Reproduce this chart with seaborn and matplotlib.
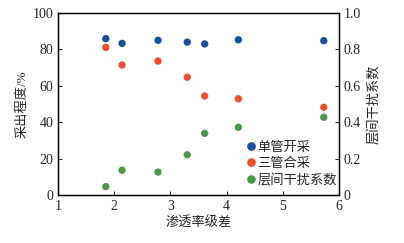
import matplotlib
matplotlib.use("Agg")
import matplotlib.pyplot as plt
import seaborn as sns
import pandas as pd
from matplotlib.lines import Line2D

sns.set_style("ticks")
plt.rcParams['font.family'] = ['Liberation Serif', 'Noto Sans CJK SC']
plt.rcParams['axes.unicode_minus'] = False

perm_diff = [1.85, 2.14, 2.78, 3.30, 3.61, 4.21, 5.73]
single = [85.9, 83.3, 85.0, 84.0, 83.0, 85.3, 84.8]
triple = [81.1, 71.4, 73.6, 64.7, 54.4, 52.9, 48.2]
interf = [0.046, 0.136, 0.126, 0.221, 0.339, 0.372, 0.427]
names = ["单管开采", "三管合采", "层间干扰系数"]
colors = ["#1a4f9c", "#e8502f", "#4a9a4a"]

df = pd.DataFrame({
    "x": perm_diff * 2,
    "y": single + triple,
    "s": [names[0]] * len(single) + [names[1]] * len(triple),
})
df2 = pd.DataFrame({"x": perm_diff, "y": interf, "s": [names[2]] * len(interf)})

fig = plt.figure(figsize=(4.04, 2.43), dpi=100)
ax = fig.add_axes([0.1436, 0.1975, 0.6954, 0.749])
sns.scatterplot(data=df, x="x", y="y", hue="s", palette=colors[:2], s=28,
                edgecolor="none", ax=ax, legend=False)
ax2 = ax.twinx()
sns.scatterplot(data=df2, x="x", y="y", hue="s", palette=[colors[2]], s=28,
                edgecolor="none", ax=ax2, legend=False)

ax.set_xlim(1, 6)
ax.set_ylim(0, 100)
ax2.set_ylim(0, 1)
ax.set_xticks([1, 2, 3, 4, 5, 6])
ax.set_yticks([0, 20, 40, 60, 80, 100])
ax2.set_yticks([0, 0.2, 0.4, 0.6, 0.8, 1.0])
ax2.set_yticklabels(["0", "0.2", "0.4", "0.6", "0.8", "1.0"])
ax.set_xlabel("渗透率级差", fontsize=9.5, labelpad=3)
ax.set_ylabel("采出程度/%", fontsize=9.5, labelpad=3)
ax2.set_ylabel("层间干扰系数", fontsize=9.5, labelpad=5)
for a in (ax, ax2):
    a.tick_params(direction="in", labelsize=10, length=3, width=0.8)
    for sp in a.spines.values():
        sp.set_linewidth(0.9)
        sp.set_color("black")

handles = [Line2D([], [], marker="o", linestyle="none", color=c, markersize=5.2)
           for c in colors]
ax.legend(handles, names, loc="lower right", frameon=False, fontsize=9.5,
          handletextpad=0.0, handlelength=1.0, labelspacing=0.3,
          borderaxespad=0.2, bbox_to_anchor=(1.02, 0.0))

fig.savefig("out.png", dpi=100)
